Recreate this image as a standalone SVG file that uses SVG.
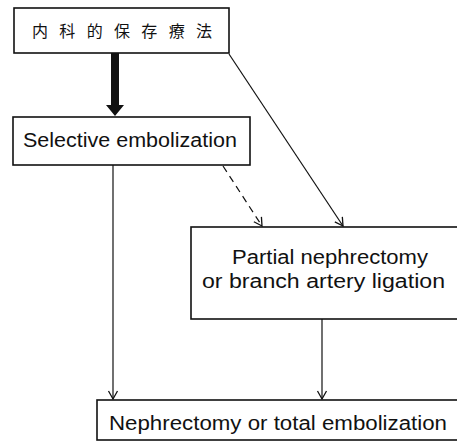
<svg xmlns="http://www.w3.org/2000/svg" width="457" height="442" viewBox="0 0 457 442">
<style>
.box{fill:#fff;stroke:#111;stroke-width:1.6}
.t{font-family:"Liberation Sans",Arial,sans-serif;font-size:20px;fill:#111}
.cjk{font-family:"Noto Sans CJK JP","Noto Sans CJK SC",sans-serif;font-size:16px;fill:#111}
.c{fill:none;stroke:#111;stroke-width:1.2}
</style>
<defs>
<marker id="v" markerUnits="userSpaceOnUse" markerWidth="12" markerHeight="12" viewBox="-10 -6 12 12" refX="0" refY="0" orient="auto">
<path d="M-8,-4.5 L0,0 L-8,4.5" fill="none" stroke="#111" stroke-width="1.3"/>
</marker>
</defs>
<rect width="457" height="442" fill="#fff"/>
<g id="connectors">
<polygon points="111,53 119,53 119,105 124,105 115,116 106,105 111,105" fill="#111"/>
<line class="c" x1="229" y1="54" x2="343" y2="226" marker-end="url(#v)"/>
<line class="c" x1="223" y1="166" x2="262" y2="226" stroke-dasharray="7,5" marker-end="url(#v)"/>
<line class="c" x1="113" y1="165" x2="113" y2="399" marker-end="url(#v)"/>
<line class="c" x1="322" y1="319" x2="322" y2="399" marker-end="url(#v)"/>
</g>
<g id="n1">
<rect class="box" x="14" y="8" width="215" height="45"/>
<text class="cjk" x="122" y="37" text-anchor="middle" textLength="180" lengthAdjust="spacing">内科的保存療法</text>
</g>
<g id="n2">
<rect class="box" x="13" y="117" width="237" height="48"/>
<text class="t" x="23" y="147" textLength="214" lengthAdjust="spacingAndGlyphs" font-size="21">Selective embolization</text>
</g>
<g id="n3">
<rect class="box" x="191" y="227" width="280" height="92"/>
<text class="t" x="232" y="264" textLength="196" lengthAdjust="spacingAndGlyphs">Partial nephrectomy</text>
<text class="t" x="202" y="288" textLength="243" lengthAdjust="spacingAndGlyphs">or branch artery ligation</text>
</g>
<g id="n4">
<rect class="box" x="97" y="400" width="380" height="40"/>
<text class="t" x="109" y="430" textLength="338" lengthAdjust="spacingAndGlyphs">Nephrectomy or total embolization</text>
</g>
</svg>
